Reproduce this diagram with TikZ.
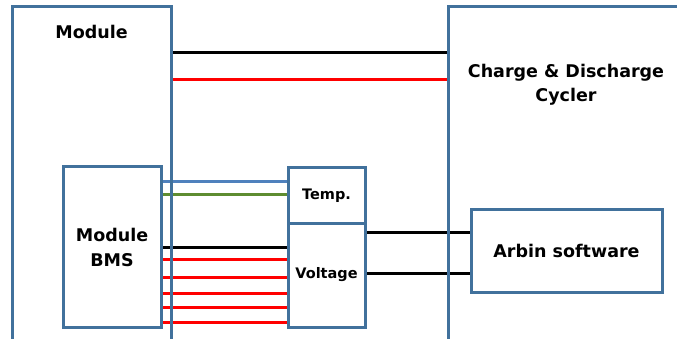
\documentclass[tikz,border=0pt]{standalone}
\usepackage{fontspec}
\setmainfont{DejaVu Sans}
\usetikzlibrary{positioning, backgrounds}
\definecolor{boxb}{HTML}{41719C}
\definecolor{wblue}{HTML}{4F81BD}
\definecolor{wgreen}{HTML}{5E8C31}
\definecolor{wred}{HTML}{FF0000}

\begin{document}
\begin{tikzpicture}[
    x=1pt, y=-1pt,
    box/.style={draw=boxb, line width=3pt, outer sep=0pt, inner sep=0pt, anchor=north west,
                align=center, font=\bfseries\fontsize{17.5}{25}\selectfont},
    small/.style={font=\bfseries\fontsize{14.5}{18}\selectfont},
    title/.style={inner sep=0pt, align=center, font=\bfseries\fontsize{17.5}{24}\selectfont},
    wire/.style={line width=3pt},
]
\useasboundingbox (0,0) rectangle (677,339);
\clip (0,0) rectangle (677,339);

% Boxes
\node[box, minimum width=159pt, minimum height=333pt] (module) at (12,7) {};
\node[box, minimum width=236pt, minimum height=333pt] (cycler) at (448,7) {};
\node[box, minimum width=98pt, minimum height=160pt] (bms) at (63,167) {Module\\BMS};
\node[box, small, minimum width=77pt, minimum height=55pt] (temp) at (288,168) {Temp.};
\node[box, small, minimum width=77pt, minimum height=104pt] (volt) at (288,223) {Voltage};
\node[box, minimum width=191pt, minimum height=82pt] (arbin) at (471,210) {Arbin software};

% Titles
\node[title, below=18pt of module.north] (modtitle) {Module};
\node[title] (cyctitle) at (566,85) {Charge \& Discharge\\Cycler};

% Wires
\begin{scope}[on background layer]
  \draw[wire, black] (module.east |- 0,53) -- (cycler.west |- 0,53);
  \draw[wire, wred] (module.east |- 0,80) -- (cycler.west |- 0,80);
  \draw[wire, wblue] (bms.east |- 0,182) -- (temp.west |- 0,182);
  \draw[wire, wgreen] (bms.east |- 0,195) -- (temp.west |- 0,195);
  \draw[wire, black] (bms.east |- 0,247) -- (volt.west |- 0,247);
  \foreach \y in {259, 277, 293, 307, 322}
    \draw[wire, wred] (bms.east |- 0,\y) -- (volt.west |- 0,\y);
  \draw[wire, black] (volt.east |- 0,232) -- (arbin.west |- 0,232);
  \draw[wire, black] (volt.east |- 0,273) -- (arbin.west |- 0,273);
\end{scope}

\end{tikzpicture}
\end{document}
